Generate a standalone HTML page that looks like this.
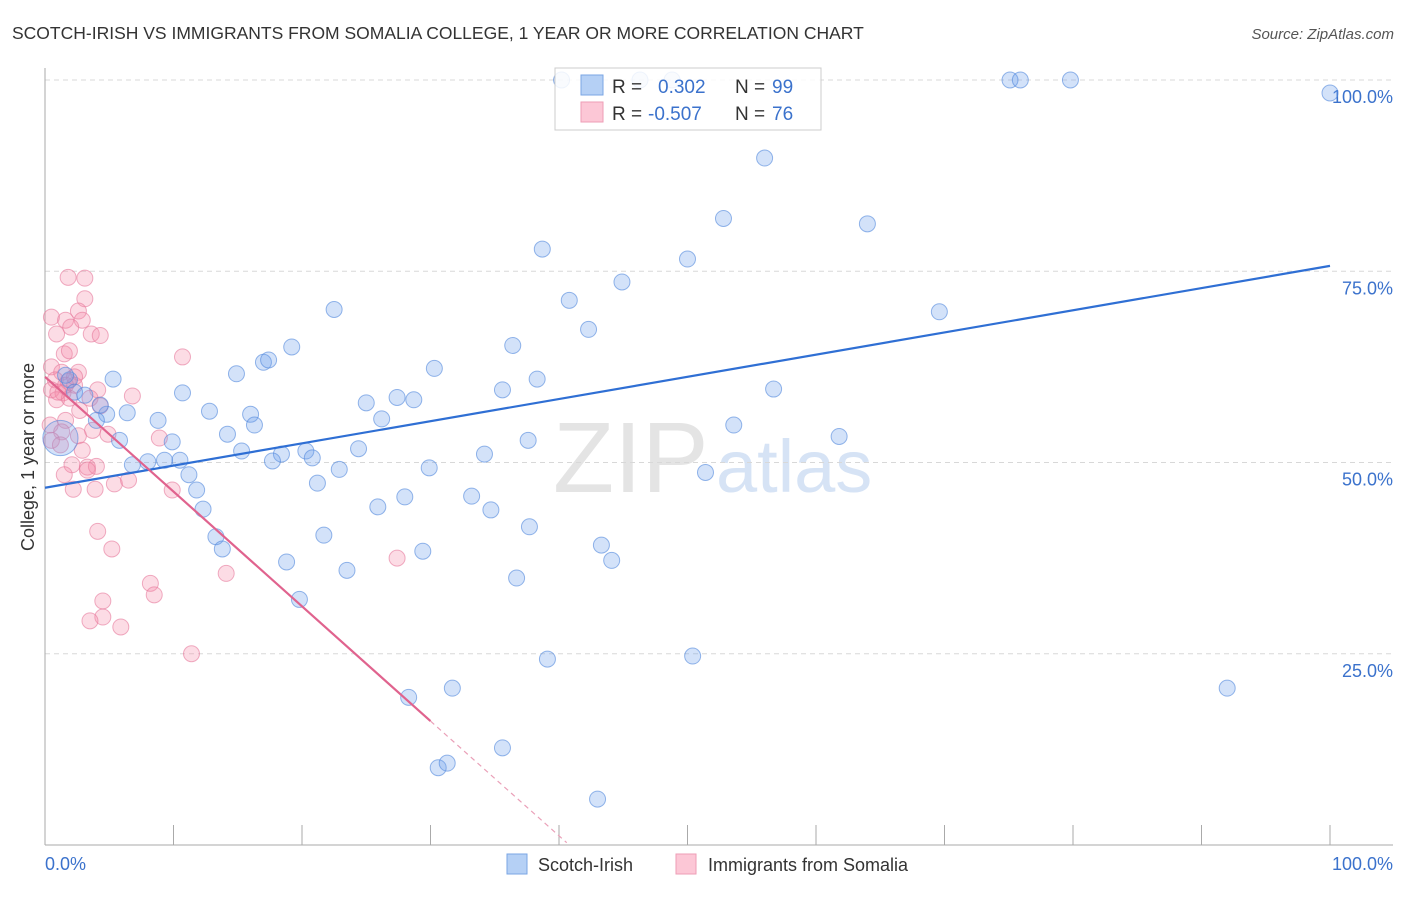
<!DOCTYPE html>
<html><head><meta charset="utf-8"><style>
body{margin:0;background:#fff;font-family:"Liberation Sans",sans-serif}
svg text{font-family:"Liberation Sans",sans-serif}
</style></head><body>
<svg id="chart" width="1406" height="892">
<text x="12" y="39" font-size="17.5" fill="#333">SCOTCH-IRISH VS IMMIGRANTS FROM SOMALIA COLLEGE, 1 YEAR OR MORE CORRELATION CHART</text>
<text x="1394" y="39" font-size="15" fill="#555" font-style="italic" text-anchor="end">Source: ZipAtlas.com</text>
<text x="0" y="0" transform="translate(34,457) rotate(-90)" font-size="18" fill="#333" text-anchor="middle">College, 1 year or more</text>
<g><text x="553" y="492" font-size="100" fill="#e4e4e4" font-family="Liberation Serif,serif">ZIP</text><text x="716" y="492" font-size="74" fill="#d6e3f5">atlas</text></g>
<g id="grid"></g>
<g id="axes"></g>
<g id="pts"></g>
<g id="trends"></g>
<g>
<rect x="555" y="68" width="266" height="62" fill="#fff" fill-opacity="0.85" stroke="#ccc"/>
<rect x="581" y="75" width="22" height="20" fill="#b5d0f5" stroke="#7aa6e4"/>
<rect x="581" y="102" width="22" height="20" fill="#fcc7d6" stroke="#ee9db6"/>
<text x="612" y="93" font-size="19" fill="#333">R =</text><text x="658" y="93" font-size="19" fill="#3b72cc">0.302</text>
<text x="735" y="93" font-size="19" fill="#333">N =</text><text x="772" y="93" font-size="19" fill="#3b72cc">99</text>
<text x="612" y="120" font-size="19" fill="#333">R =</text><text x="648" y="120" font-size="19" fill="#3b72cc">-0.507</text>
<text x="735" y="120" font-size="19" fill="#333">N =</text><text x="772" y="120" font-size="19" fill="#3b72cc">76</text>
</g>
<g>
<rect x="507" y="854" width="20" height="20" fill="#b5d0f5" stroke="#7aa6e4"/>
<text x="538" y="871" font-size="18" fill="#333">Scotch-Irish</text>
<rect x="676" y="854" width="20" height="20" fill="#fcc7d6" stroke="#ee9db6"/>
<text x="708" y="871" font-size="18" fill="#333">Immigrants from Somalia</text>
</g>
</svg>
<script>
const blueX=[40.2,46.3,48.8,75.1,75.9,79.8,100,56.0,52.8,64.0,38.7,50.0,44.9,40.8,22.5,42.3,69.6,36.4,19.2,17.0,17.4,30.3,14.9,5.3,38.3,10.7,35.6,56.7,27.4,28.7,25.0,12.8,6.4,16.0,4.8,8.8,26.2,4.0,16.3,53.6,14.2,61.8,5.8,9.9,37.6,15.3,20.3,24.4,18.4,20.8,34.2,10.5,17.7,6.8,8.0,9.3,22.9,29.9,51.4,11.2,21.2,11.8,33.2,28.0,25.9,34.7,12.3,37.7,13.3,21.7,43.3,13.8,29.4,18.8,44.1,23.5,36.7,19.8,39.1,50.4,31.7,92.0,28.3,35.6,30.6,31.3,43.0,1.9,2.3,3.1,1.6,4.3,1.2];
const blueY=[100,100,100,100,100,100,98.3,89.8,81.9,81.2,77.9,76.6,73.6,71.2,70.0,67.4,69.7,65.3,65.1,63.1,63.4,62.3,61.6,60.9,60.9,59.1,59.5,59.6,58.5,58.2,57.8,56.7,56.5,56.3,56.3,55.5,55.7,55.5,54.9,54.9,53.7,53.4,52.9,52.7,52.9,51.5,51.5,51.8,51.1,50.6,51.1,50.3,50.2,49.7,50.1,50.3,49.1,49.3,48.7,48.4,47.3,46.4,45.6,45.5,44.2,43.8,43.9,41.6,40.3,40.5,39.2,38.7,38.4,37.0,37.2,35.9,34.9,32.1,24.3,24.7,20.5,20.5,19.3,12.7,10.1,10.7,6.0,60.8,59.2,58.8,61.4,57.5,53.2];
const blueSize=blueX.map((_,i)=>i===blueX.length-1?2.2:1);
const pinkX=[1.8,3.1,3.1,0.5,2.6,1.6,2.9,2.0,0.9,3.6,4.3,1.5,1.9,10.7,0.5,1.3,2.6,0.8,1.8,2.3,0.5,1.4,4.1,6.8,0.9,1.9,3.5,2.7,4.3,1.6,0.4,1.3,2.6,3.7,4.9,8.9,0.5,1.2,2.9,2.1,3.3,4.0,3.3,1.5,5.4,6.5,9.9,2.2,3.9,4.1,5.2,8.2,8.5,4.5,4.5,3.5,5.9,11.4,14.1,27.4,1.6,1.0,2.3];
const pinkY=[74.2,74.1,71.4,69.0,69.8,68.6,68.6,67.7,66.8,66.8,66.6,64.2,64.6,63.8,62.5,61.8,61.8,60.8,60.6,60.1,59.5,59.1,59.5,58.7,58.2,58.4,58.4,56.8,57.4,55.5,54.9,54.0,53.5,54.2,53.7,53.2,52.9,52.3,51.6,49.7,49.4,49.5,49.0,48.4,47.2,47.7,46.4,46.5,46.5,41.0,38.7,34.2,32.7,31.9,29.8,29.3,28.5,25.0,35.5,37.5,60.1,59.2,61.2];
const blueTrend=[46.7,75.7];      // y at x=0 and x=100
const pinkTrend=[61.2,-1.5];      // intercept, slope
const pinkSolidEnd=30, pinkDashEnd=40.6;
const yTicks=[25,50,75,100];
const xTicks=[0,10,20,30,40,50,60,70,80,90,100];

const L=45,R=1330,T=80,B=845;
const sx=v=>L+(R-L)*v/100, sy=v=>B-(B-T)*v/100;
const NS='http://www.w3.org/2000/svg';
function mk(tag,attrs,parent){const e=document.createElementNS(NS,tag);for(const k in attrs)e.setAttribute(k,attrs[k]);document.getElementById(parent).appendChild(e);return e;}

yTicks.forEach(t=>{
  const g=mk('line',{x1:L,x2:1393,y1:sy(t),y2:sy(t),stroke:'#d8d8d8','stroke-dasharray':'5,4'},'grid');
  
  
  const tx=mk('text',{x:1393,y:sy(t)+23,'font-size':18,fill:'#3b72cc','text-anchor':'end'},'grid');
  tx.textContent=t.toFixed(1)+'%';
  
  
});
const ax=mk('line',{x1:L,x2:L,y1:68,y2:B,stroke:'#aaa'},'axes');


const bx=mk('line',{x1:L,x2:1393,y1:B,y2:B,stroke:'#aaa'},'axes');


xTicks.forEach(t=>{
  const l=mk('line',{x1:sx(t),x2:sx(t),y1:825,y2:B,stroke:'#aaa'},'axes');
  
  
});
const x0=mk('text',{x:45,y:870,'font-size':18,fill:'#3b72cc'},'axes');x0.textContent='0.0%';


const x1=mk('text',{x:1393,y:870,'font-size':18,fill:'#3b72cc','text-anchor':'end'},'axes');x1.textContent='100.0%';



pinkX.forEach((v,i)=>{
  const c=mk('circle',{cx:sx(v),cy:sy(pinkY[i]),r:8,fill:'rgba(244,140,170,0.3)',stroke:'rgba(230,120,155,0.6)','stroke-width':1},'pts');
  
  
});
blueX.forEach((v,i)=>{
  const c=mk('circle',{cx:sx(v),cy:sy(blueY[i]),r:8*blueSize[i],fill:'rgba(110,160,235,0.3)',stroke:'rgba(80,135,220,0.6)','stroke-width':1},'pts');
  
  
});
const bl=mk('line',{x1:sx(0),y1:sy(blueTrend[0]),x2:sx(100),y2:sy(blueTrend[1]),stroke:'#2f6fd4','stroke-width':2.2},'trends');


const pf=x=>pinkTrend[0]+pinkTrend[1]*x;
const pl=mk('line',{x1:sx(0),y1:sy(pf(0)),x2:sx(pinkSolidEnd),y2:sy(pf(pinkSolidEnd)),stroke:'#e0638e','stroke-width':2.2},'trends');


const pd=mk('line',{x1:sx(pinkSolidEnd),y1:sy(pf(pinkSolidEnd)),x2:sx(pinkDashEnd),y2:sy(pf(pinkDashEnd)),stroke:'#eaa0b8','stroke-width':1.2,'stroke-dasharray':'5,4'},'trends');


</script>
</body></html>
